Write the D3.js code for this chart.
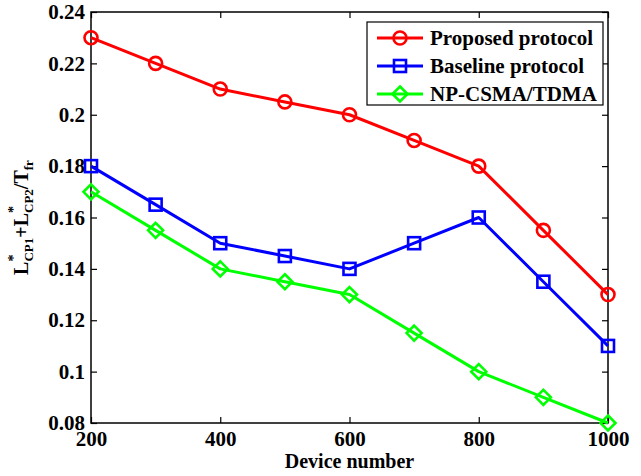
<!DOCTYPE html>
<html>
<head>
<meta charset="utf-8">
<script src="https://cdn.jsdelivr.net/npm/d3@7"></script>
<style>
  html, body { margin: 0; padding: 0; background: #fff; }
  svg { display: block; }
  text { font-family: "Liberation Serif", "Times New Roman", serif; font-weight: bold; }
</style>
</head>
<body>
<svg id="chart" width="641" height="476"></svg>
<script>
// Device counts on the x axis
const devices = [200, 300, 400, 500, 600, 700, 800, 900, 1000];
// Normalised control-phase length for each scheme
const proposed = [0.23, 0.22, 0.21, 0.205, 0.20, 0.19, 0.18, 0.155, 0.13];
const baseline = [0.18, 0.165, 0.15, 0.145, 0.14, 0.15, 0.16, 0.135, 0.11];
const npCsma   = [0.17, 0.155, 0.14, 0.135, 0.13, 0.115, 0.10, 0.09, 0.08];
const seriesNames = ["Proposed protocol", "Baseline protocol", "NP-CSMA/TDMA"];
const xTicks = [200, 400, 600, 800, 1000];
const yTicks = [0.08, 0.1, 0.12, 0.14, 0.16, 0.18, 0.2, 0.22, 0.24];

const series = [
  { name: seriesNames[0], values: proposed, color: "#ff0000", marker: "circle" },
  { name: seriesNames[1], values: baseline, color: "#0000ff", marker: "square" },
  { name: seriesNames[2], values: npCsma,   color: "#00ff00", marker: "diamond" }
];

const svg = d3.select("#chart");
const m = { left: 91, right: 608, top: 12, bottom: 423 };

const x = d3.scaleLinear().domain([200, 1000]).range([m.left, m.right]);
const y = d3.scaleLinear().domain([0.08, 0.24]).range([m.bottom, m.top]);

// Axes with inward ticks on all four sides
const tickLen = 6;
const fontSize = 21;
svg.append("g").attr("transform", `translate(0,${m.bottom})`)
  .call(d3.axisBottom(x).tickValues(xTicks).tickSizeInner(-tickLen).tickSizeOuter(0).tickPadding(9).tickFormat(d3.format("d")))
  .call(g => g.selectAll("text").attr("font-size", fontSize).attr("dy", "0.66em").attr("fill", "#000"));
svg.append("g").attr("transform", `translate(0,${m.top})`)
  .call(d3.axisTop(x).tickValues(xTicks).tickSizeInner(-tickLen).tickSizeOuter(0).tickFormat(""));
svg.append("g").attr("transform", `translate(${m.left},0)`)
  .call(d3.axisLeft(y).tickValues(yTicks).tickSizeInner(-tickLen).tickSizeOuter(0).tickPadding(6).tickFormat(d => d3.format("")(+d.toFixed(2))))
  .call(g => g.selectAll("text").attr("font-size", fontSize).attr("fill", "#000"));
svg.append("g").attr("transform", `translate(${m.right},0)`)
  .call(d3.axisRight(y).tickValues(yTicks).tickSizeInner(-tickLen).tickSizeOuter(0).tickFormat(""));

svg.selectAll(".domain").remove();
svg.selectAll(".tick line").attr("stroke", "#000").attr("stroke-width", 1.2);
svg.append("rect")
  .attr("x", m.left).attr("y", m.top)
  .attr("width", m.right - m.left).attr("height", m.bottom - m.top)
  .attr("fill", "none").attr("stroke", "#000").attr("stroke-width", 1.5);

// Markers
function drawMarker(g, type, cx, cy, color) {
  if (type === "circle") {
    g.append("circle").attr("cx", cx).attr("cy", cy).attr("r", 6.5)
      .attr("fill", "none").attr("stroke", color).attr("stroke-width", 2.6);
  } else if (type === "square") {
    g.append("rect").attr("x", cx - 6).attr("y", cy - 6).attr("width", 12).attr("height", 12)
      .attr("fill", "none").attr("stroke", color).attr("stroke-width", 2.6);
  } else {
    const s = 7.5;
    g.append("path").attr("d", `M${cx},${cy - s}L${cx + s},${cy}L${cx},${cy + s}L${cx - s},${cy}Z`)
      .attr("fill", "none").attr("stroke", color).attr("stroke-width", 2.6);
  }
}

const line = d3.line().x((d, i) => x(devices[i])).y(d => y(d));
series.forEach(s => {
  const g = svg.append("g");
  g.append("path").datum(s.values).attr("d", line)
    .attr("fill", "none").attr("stroke", s.color).attr("stroke-width", 3).attr("stroke-linejoin", "round");
  s.values.forEach((v, i) => drawMarker(g, s.marker, x(devices[i]), y(v), s.color));
});

// Legend
const lg = svg.append("g");
lg.append("rect").attr("x", 367).attr("y", 22).attr("width", 236).attr("height", 83)
  .attr("fill", "#fff").attr("stroke", "#000").attr("stroke-width", 1.2);
series.forEach((s, i) => {
  const ly = 38 + i * 28;
  lg.append("line").attr("x1", 377).attr("x2", 423).attr("y1", ly).attr("y2", ly)
    .attr("stroke", s.color).attr("stroke-width", 3);
  drawMarker(lg, s.marker, 400, ly, s.color);
  lg.append("text").attr("x", 430).attr("y", ly).attr("dy", "0.35em")
    .attr("font-size", 21).attr("fill", "#000").text(s.name);
});

// Axis titles
svg.append("text").attr("x", (m.left + m.right) / 2).attr("y", 468)
  .attr("text-anchor", "middle").attr("font-size", 20).attr("fill", "#000").text("Device number");

// Rotated y title: L*_CP1 + L*_CP2 / T_fr, with the asterisk stacked over each subscript
const yl = svg.append("text")
  .attr("transform", `translate(28,${(m.top + m.bottom) / 2}) rotate(-90)`)
  .attr("text-anchor", "middle").attr("font-size", 20).attr("fill", "#000");
yl.append("tspan").text("L");
yl.append("tspan").attr("font-size", 14).attr("dy", -10).text("*");
yl.append("tspan").attr("font-size", 13).attr("dy", 15).attr("dx", -7).text("CP1");
yl.append("tspan").attr("dy", -5).text("+L");
yl.append("tspan").attr("font-size", 14).attr("dy", -10).text("*");
yl.append("tspan").attr("font-size", 13).attr("dy", 15).attr("dx", -7).text("CP2");
yl.append("tspan").attr("dy", -5).text("/T");
yl.append("tspan").attr("font-size", 13).attr("dy", 5).text("fr");
</script>
</body>
</html>
